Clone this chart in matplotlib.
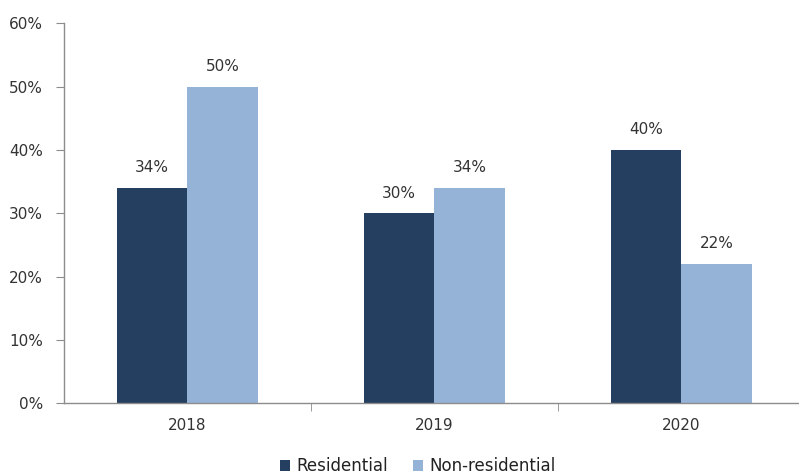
import matplotlib.pyplot as plt
import numpy as np
from matplotlib.ticker import PercentFormatter

years = ['2018', '2019', '2020']
residential = [34, 30, 40]
non_residential = [50, 34, 22]

dark = '#243F60'
light = '#95B3D7'
grey = '#8C8C8C'

plt.rcParams['font.family'] = ['DejaVu Sans']
plt.rcParams['font.size'] = 11

fig = plt.figure(figsize=(7.99, 4.76), dpi=100)
ax = fig.add_axes([0.080, 0.153, 0.927, 0.798])

x = np.arange(len(years))
w = 0.286
b1 = ax.bar(x - w / 2, residential, w, color=dark, label='Residential')
b2 = ax.bar(x + w / 2, non_residential, w, color=light, label='Non-residential')

for bars, vals in ((b1, residential), (b2, non_residential)):
    for bar, v in zip(bars, vals):
        ax.annotate('{}%'.format(v), (bar.get_x() + bar.get_width() / 2, v),
                    xytext=(0, 9), textcoords='offset points',
                    ha='center', va='bottom', color='#333333', fontsize=11)

ax.set_ylim(0, 60)
ax.set_yticks(range(0, 61, 10))
ax.yaxis.set_major_formatter(PercentFormatter(decimals=0))
ax.set_xlim(-0.5, 2.5)

# category labels in the middle, tick marks on the group boundaries
ax.set_xticks(x)
ax.set_xticklabels(years)
ax.tick_params(axis='x', which='major', length=0, pad=11, colors='#333333')
ax.set_xticks([0.5, 1.5], minor=True)
ax.tick_params(axis='x', which='minor', length=6, color=grey, direction='out')
ax.tick_params(axis='y', length=6, color=grey, colors='#333333', pad=9)

for s in ('top', 'right'):
    ax.spines[s].set_visible(False)
for s in ('left', 'bottom'):
    ax.spines[s].set_color(grey)
    ax.spines[s].set_linewidth(1)

fig.legend(handles=[b1, b2], loc='center', bbox_to_anchor=(0.523, 0.02),
           ncol=2, frameon=False, fontsize=12, handlelength=0.6,
           handleheight=0.6, handletextpad=0.4, columnspacing=1.5,
           labelcolor='#222222')

fig.savefig('out.png', dpi=100)
